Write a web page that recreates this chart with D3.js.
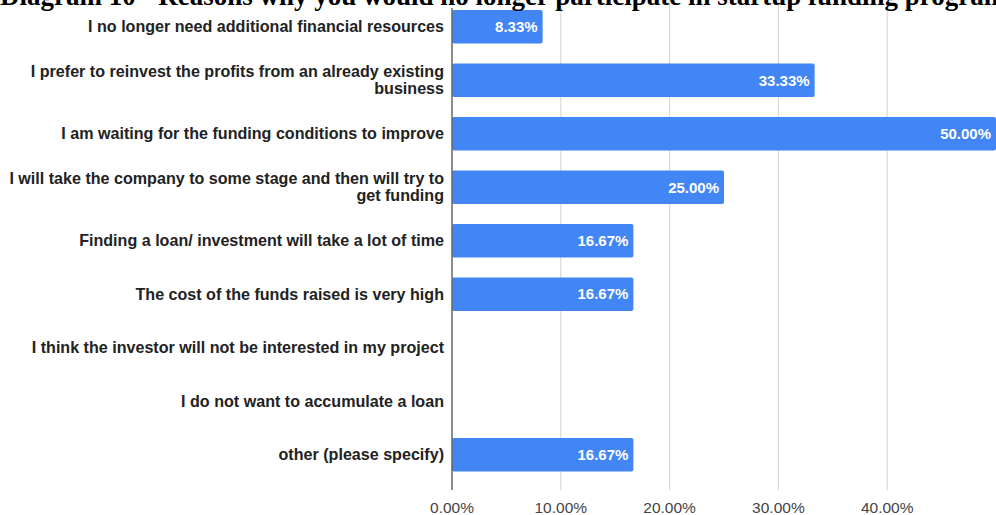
<!DOCTYPE html>
<html>
<head>
<meta charset="utf-8">
<script src="https://cdnjs.cloudflare.com/ajax/libs/d3/7.8.5/d3.min.js"></script>
<style>
  html, body { margin: 0; padding: 0; background: #fff; overflow: hidden; }
  svg { display: block; }
</style>
</head>
<body>
<svg id="chart" width="996" height="515"></svg>
<script>
const titleText = "Diagram 10 - Reasons why you would no longer participate in startup funding program";
const categories = [
  ["I no longer need additional financial resources"],
  ["I prefer to reinvest the profits from an already existing", "business"],
  ["I am waiting for the funding conditions to improve"],
  ["I will take the company to some stage and then will try to", "get funding"],
  ["Finding a loan/ investment will take a lot of time"],
  ["The cost of the funds raised is very high"],
  ["I think the investor will not be interested in my project"],
  ["I do not want to accumulate a loan"],
  ["other (please specify)"]
];
const values = [0.0833, 0.3333, 0.50, 0.25, 0.1667, 0.1667, 0, 0, 0.1667];
const tickValues = [0, 0.1, 0.2, 0.3, 0.4];

const svg = d3.select("#chart");
const x = d3.scaleLinear().domain([0, 0.5]).range([452, 996]);
const ids = categories.map((c, i) => i);
const y = d3.scaleBand().domain(ids).range([-10, 491.5]).padding(0.374);

// gridlines
svg.append("g").selectAll("line").data(tickValues.slice(1)).join("line")
  .attr("x1", d => x(d)).attr("x2", d => x(d))
  .attr("y1", 0).attr("y2", 490)
  .attr("stroke", "#d9d9d9").attr("stroke-width", 1.2);

// bars
svg.append("g").selectAll("rect").data(ids.filter(i => values[i] > 0)).join("rect")
  .attr("x", x(0)).attr("y", i => y(i))
  .attr("width", i => x(values[i]) - x(0))
  .attr("height", y.bandwidth())
  .attr("rx", 2)
  .attr("fill", "#4285f4");

// value labels
svg.append("g").selectAll("text").data(ids.filter(i => values[i] > 0)).join("text")
  .attr("x", i => x(values[i]) - 5)
  .attr("y", i => y(i) + y.bandwidth() / 2)
  .attr("dy", "0.35em")
  .attr("text-anchor", "end")
  .attr("fill", "#ffffff")
  .attr("font-family", "Liberation Sans, Arial, sans-serif")
  .attr("font-weight", "bold")
  .attr("font-size", 15)
  .text(i => d3.format(".2%")(values[i]));

// axis baseline
svg.append("line")
  .attr("x1", x(0)).attr("x2", x(0))
  .attr("y1", 8).attr("y2", 490)
  .attr("stroke", "#666").attr("stroke-width", 1.5);

// category labels
const lab = svg.append("g").selectAll("text").data(ids).join("text")
  .attr("text-anchor", "end")
  .attr("fill", "#222")
  .attr("font-family", "Liberation Sans, Arial, sans-serif")
  .attr("font-weight", "bold")
  .attr("font-size", 16.1)
  .attr("transform", i => `translate(444,${y(i) + y.bandwidth() / 2})`);
lab.each(function(i) {
  const lines = categories[i];
  const t = d3.select(this);
  const lh = 17;
  lines.forEach((ln, k) => {
    t.append("tspan").attr("x", 0)
      .attr("y", (k - (lines.length - 1) / 2) * lh)
      .attr("dy", "0.35em")
      .text(ln);
  });
});

// x tick labels
svg.append("g").selectAll("text").data(tickValues).join("text")
  .attr("x", d => x(d)).attr("y", 508).attr("dy", "0.35em")
  .attr("text-anchor", "middle")
  .attr("fill", "#444")
  .attr("font-family", "Liberation Sans, Arial, sans-serif")
  .attr("font-size", 15.5)
  .text(d => d3.format(".2%")(d));

// title (cut off at top, as in the reference)
svg.append("text")
  .attr("x", 0).attr("y", 4.5)
  .attr("fill", "#000")
  .attr("font-family", "Liberation Serif, Times New Roman, serif")
  .attr("font-weight", "bold")
  .attr("font-size", 27)
  .text(titleText);
</script>
</body>
</html>
